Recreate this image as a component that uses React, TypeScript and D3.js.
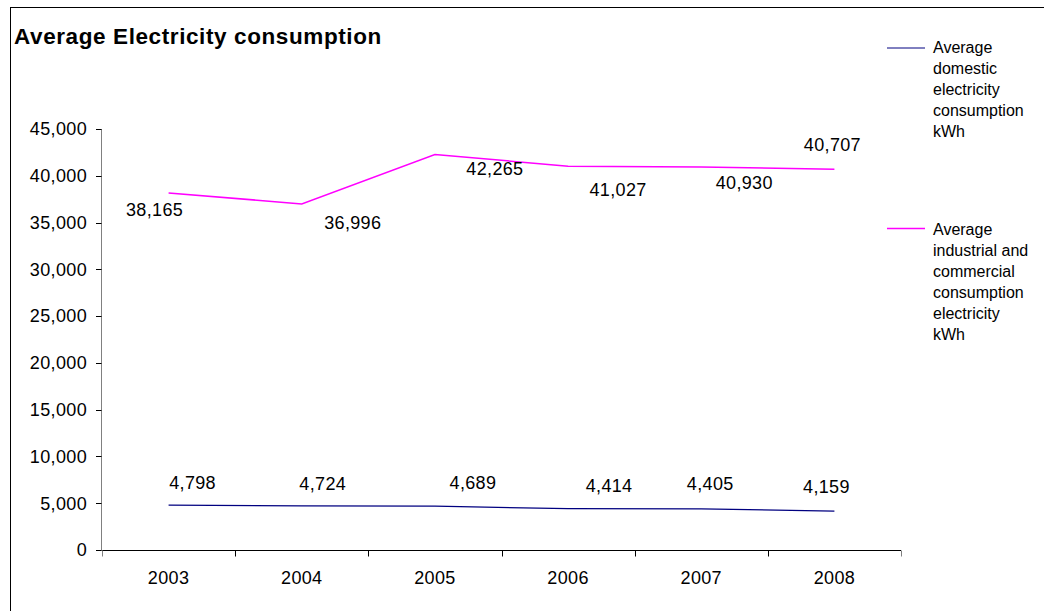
import React from "react";
import * as d3 from "d3";

const years = ["2003", "2004", "2005", "2006", "2007", "2008"];
const domestic = [4798, 4724, 4689, 4414, 4405, 4159];
const industrial = [38165, 36996, 42265, 41027, 40930, 40707];
const yTicks = [0, 5000, 10000, 15000, 20000, 25000, 30000, 35000, 40000, 45000];
const legendDomestic = ["Average", "domestic", "electricity", "consumption", "kWh"];
const legendIndustrial = ["Average", "industrial and", "commercial", "consumption", "electricity", "kWh"];

// manual label placement offsets (dx, dy of label centre from point)
const domLabelOffset = [[24, -22], [21, -22], [38, -23], [41, -23], [9, -25], [-8, -24]];
const indLabelOffset = [[-14, 17], [51, 19], [60, 14], [50, 24], [43, 16], [-2, -24]];

const FONT = "'Liberation Sans', Arial, Helvetica, sans-serif";
const fmt = d3.format(",");

export default function App() {
  const x = d3.scaleBand<string>().domain(years).range([102, 901]).padding(0);
  const y = d3.scaleLinear().domain([0, 45000]).range([550, 129]);
  const cx = (d: string) => (x(d) as number) + x.bandwidth() / 2;

  const line = d3
    .line<number>()
    .x((_, i) => cx(years[i]))
    .y((v) => y(v));

  const boundaries = years.map((d) => x(d) as number).concat([x.range()[1]]);
  const LS = 0.35;
  const FS = 18;

  return (
    <svg
      width={1044}
      height={611}
      style={{ position: "fixed", left: 0, top: 0, background: "#fff" }}
      fontFamily={FONT}
    >
      <rect x={0} y={0} width={1044} height={611} fill="#fff" />
      <rect x={10.5} y={7.5} width={1200} height={800} fill="none" stroke="#000" strokeWidth={1} />

      <text x={14} y={44} fontSize={22.5} fontWeight="bold" fill="#000" letterSpacing={0.6}>
        Average Electricity consumption
      </text>

      {/* y axis */}
      <line x1={101.5} x2={101.5} y1={y(45000)} y2={y(0)} stroke="#808080" strokeWidth={1} />
      {yTicks.map((t) => (
        <g key={t}>
          <line x1={96} x2={101.5} y1={Math.round(y(t)) + 0.5} y2={Math.round(y(t)) + 0.5} stroke="#000" />
          <text x={87} y={y(t)} dy="0.35em" textAnchor="end" fontSize={FS} fill="#000" letterSpacing={LS}>
            {fmt(t)}
          </text>
        </g>
      ))}

      {/* x axis */}
      <line x1={101.5} x2={901} y1={550.5} y2={550.5} stroke="#000" strokeWidth={1} />
      {boundaries.map((b, i) => (
        <line key={i} x1={Math.round(b) + 0.5} x2={Math.round(b) + 0.5} y1={550.5} y2={556.5} stroke={i === 0 || i === boundaries.length - 1 ? "#808080" : "#000"} />
      ))}
      {years.map((d) => (
        <text key={d} x={cx(d)} y={578} dy="0.35em" textAnchor="middle" fontSize={FS} fill="#000" letterSpacing={LS}>
          {d}
        </text>
      ))}

      {/* series */}
      <path d={line(industrial) as string} fill="none" stroke="#FF00FF" strokeWidth={1.5} />
      <path d={line(domestic) as string} fill="none" stroke="#000080" strokeWidth={1.2} />

      {industrial.map((v, i) => (
        <text
          key={"i" + i}
          x={cx(years[i]) + indLabelOffset[i][0]}
          y={y(v) + indLabelOffset[i][1]}
          dy="0.35em"
          textAnchor="middle"
          fontSize={FS}
          fill="#000"
          letterSpacing={LS}
        >
          {fmt(v)}
        </text>
      ))}
      {domestic.map((v, i) => (
        <text
          key={"d" + i}
          x={cx(years[i]) + domLabelOffset[i][0]}
          y={y(v) + domLabelOffset[i][1]}
          dy="0.35em"
          textAnchor="middle"
          fontSize={FS}
          fill="#000"
          letterSpacing={LS}
        >
          {fmt(v)}
        </text>
      ))}

      {/* legend */}
      <line x1={887} x2={925} y1={48} y2={48} stroke="#000080" strokeWidth={1} />
      <text fontSize={16} fill="#000">
        {legendDomestic.map((t, i) => (
          <tspan key={i} x={933} y={53 + i * 21}>
            {t}
          </tspan>
        ))}
      </text>
      <line x1={887} x2={925} y1={228.5} y2={228.5} stroke="#FF00FF" strokeWidth={1.5} />
      <text fontSize={16} fill="#000">
        {legendIndustrial.map((t, i) => (
          <tspan key={i} x={933} y={235 + i * 21}>
            {t}
          </tspan>
        ))}
      </text>
    </svg>
  );
}
